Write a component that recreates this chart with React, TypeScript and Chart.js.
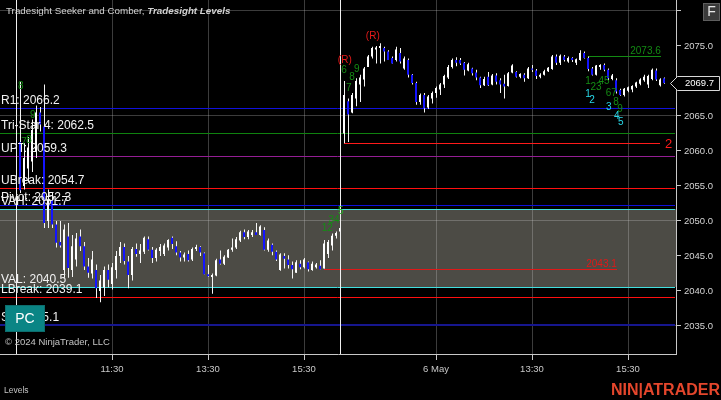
import React, { useEffect, useRef } from 'react';
import { Chart, registerables } from 'chart.js';

Chart.register(...registerables);

const FONT = '"Liberation Sans", Arial, sans-serif';

// ---- Day 1 (5-min bars, 9:35 .. 16:15) ----
const d1Open = [2061.3, 2055.0, 2057.5, 2058.5, 2060.0, 2065.5, 2063.5, 2050.0, 2053.0, 2049.5, 2047.0, 2043.0, 2047.8, 2043.0, 2044.5, 2047.8, 2046.4, 2043.5, 2042.5, 2043.0, 2040.0, 2040.5, 2043.0, 2041.0, 2043.0, 2045.0, 2046.3, 2044.2, 2042.3, 2046.0, 2045.3, 2045.6, 2047.4, 2045.9, 2044.7, 2045.7, 2045.3, 2046.2, 2047.6, 2046.4, 2045.5, 2044.8, 2045.3, 2044.5, 2046.0, 2046.3, 2045.4, 2042.4, 2042.0, 2042.2, 2044.5, 2043.9, 2044.8, 2045.9, 2046.2, 2047.2, 2048.4, 2047.7, 2048.0, 2048.4, 2048.0, 2048.7, 2045.9, 2046.6, 2045.6, 2043.0, 2045.0, 2044.5, 2043.7, 2042.6, 2043.9, 2043.4, 2044.1, 2043.0, 2043.4, 2043.6, 2043.2, 2045.3, 2046.5, 2047.9, 2048.5];
const d1High = [2069.9, 2061.0, 2062.0, 2064.5, 2066.5, 2066.3, 2069.5, 2054.5, 2054.0, 2050.0, 2050.0, 2049.5, 2049.7, 2048.0, 2048.3, 2048.8, 2047.0, 2044.7, 2045.7, 2043.8, 2042.3, 2043.5, 2043.8, 2044.0, 2045.7, 2047.0, 2046.8, 2045.0, 2046.3, 2046.8, 2046.7, 2047.8, 2047.8, 2046.3, 2046.1, 2046.7, 2046.8, 2047.4, 2047.8, 2047.1, 2045.7, 2045.5, 2045.8, 2046.2, 2046.6, 2046.4, 2045.5, 2043.7, 2042.5, 2044.6, 2045.8, 2045.1, 2046.0, 2047.5, 2047.7, 2048.6, 2048.8, 2048.7, 2048.7, 2049.7, 2049.4, 2049.1, 2047.5, 2046.8, 2045.8, 2045.4, 2045.4, 2045.1, 2044.2, 2044.4, 2044.4, 2044.7, 2044.2, 2044.2, 2044.0, 2044.4, 2047.3, 2047.3, 2048.2, 2048.5, 2049.1];
const d1Low = [2054.0, 2054.5, 2055.5, 2057.0, 2059.0, 2062.8, 2049.0, 2049.0, 2049.0, 2046.2, 2046.2, 2041.9, 2041.9, 2042.0, 2043.5, 2045.7, 2043.0, 2041.9, 2041.8, 2039.0, 2038.4, 2039.3, 2040.5, 2040.2, 2041.8, 2044.0, 2043.8, 2040.4, 2041.5, 2044.9, 2044.0, 2045.3, 2045.8, 2044.0, 2044.2, 2045.0, 2045.0, 2045.8, 2046.0, 2045.1, 2044.2, 2044.2, 2044.2, 2044.3, 2045.7, 2045.0, 2042.4, 2042.0, 2039.6, 2042.1, 2043.8, 2043.7, 2044.7, 2045.6, 2046.0, 2047.0, 2047.4, 2047.4, 2047.7, 2048.0, 2047.9, 2045.8, 2045.6, 2045.1, 2044.3, 2042.9, 2043.2, 2043.2, 2041.8, 2042.6, 2043.1, 2043.2, 2042.8, 2042.9, 2043.2, 2043.1, 2043.2, 2044.7, 2045.8, 2047.5, 2048.4];
const d1Close = [2054.4, 2059.0, 2060.5, 2063.0, 2065.5, 2063.8, 2049.7, 2053.0, 2049.5, 2046.9, 2046.5, 2048.8, 2043.3, 2046.4, 2047.5, 2046.4, 2043.5, 2042.6, 2044.5, 2040.4, 2041.5, 2043.0, 2041.6, 2043.4, 2045.0, 2046.3, 2044.3, 2042.3, 2046.0, 2045.3, 2045.8, 2047.6, 2045.9, 2044.7, 2045.9, 2046.3, 2046.5, 2047.3, 2046.7, 2045.5, 2044.8, 2045.2, 2044.4, 2046.0, 2046.3, 2045.5, 2042.4, 2042.1, 2042.3, 2044.4, 2043.9, 2044.9, 2045.9, 2046.2, 2047.4, 2048.4, 2047.7, 2048.5, 2048.4, 2048.0, 2049.2, 2045.9, 2047.2, 2045.6, 2044.5, 2045.2, 2044.6, 2043.7, 2043.1, 2044.1, 2043.4, 2044.5, 2043.1, 2043.9, 2043.8, 2043.1, 2046.8, 2047.0, 2047.9, 2048.3, 2049.0];

// ---- Day 2 (6 May) ----
const d2Open = [2062.5, 2067.1, 2065.5, 2067.5, 2069.5, 2070.2, 2072.0, 2073.5, 2074.5, 2074.7, 2074.7, 2074.2, 2073.3, 2073.0, 2074.0, 2071.8, 2073.0, 2070.9, 2069.7, 2067.0, 2068.0, 2066.2, 2067.5, 2068.3, 2068.8, 2069.5, 2070.5, 2072.0, 2073.0, 2073.0, 2072.6, 2071.5, 2071.8, 2071.2, 2070.5, 2069.4, 2070.6, 2069.5, 2070.8, 2070.1, 2069.6, 2069.3, 2071.2, 2071.3, 2070.6, 2070.9, 2070.4, 2071.8, 2071.5, 2070.6, 2070.9, 2071.4, 2071.7, 2073.5, 2072.6, 2073.5, 2072.8, 2073.3, 2072.6, 2073.0, 2074.0, 2073.3, 2071.8, 2070.9, 2072.0, 2072.3, 2071.6, 2070.3, 2070.1, 2068.7, 2068.0, 2068.6, 2068.8, 2069.2, 2069.6, 2070.1, 2069.5, 2070.3, 2071.5, 2069.4, 2070.4];
const d2High = [2070.0, 2067.5, 2068.3, 2070.4, 2070.9, 2072.0, 2073.7, 2074.9, 2075.0, 2075.4, 2074.9, 2074.4, 2073.5, 2074.9, 2074.7, 2073.5, 2073.2, 2071.0, 2069.9, 2068.2, 2068.3, 2068.0, 2068.5, 2069.2, 2069.7, 2070.9, 2072.3, 2073.2, 2073.4, 2073.3, 2072.7, 2072.6, 2071.9, 2071.6, 2070.6, 2070.6, 2071.3, 2071.0, 2071.1, 2070.4, 2070.9, 2071.3, 2072.4, 2071.4, 2071.1, 2071.1, 2072.0, 2072.3, 2071.7, 2071.1, 2071.6, 2072.0, 2073.7, 2073.8, 2073.8, 2073.7, 2073.5, 2073.4, 2073.2, 2074.4, 2074.2, 2073.5, 2072.0, 2072.3, 2072.4, 2072.5, 2071.8, 2071.0, 2070.4, 2068.9, 2069.0, 2069.2, 2069.4, 2069.9, 2070.4, 2070.9, 2070.9, 2071.8, 2071.8, 2070.4, 2070.5];
const d2Low = [2061.1, 2061.3, 2065.4, 2066.4, 2067.0, 2069.2, 2072.0, 2073.2, 2072.5, 2072.5, 2072.8, 2073.0, 2072.5, 2072.8, 2072.5, 2071.6, 2070.5, 2069.5, 2066.6, 2066.6, 2065.5, 2066.0, 2066.8, 2067.6, 2068.0, 2069.0, 2070.3, 2071.8, 2072.1, 2072.3, 2070.8, 2071.4, 2070.8, 2070.1, 2069.0, 2069.3, 2069.3, 2069.4, 2069.5, 2068.3, 2067.5, 2069.2, 2071.1, 2070.5, 2070.4, 2069.9, 2070.3, 2071.3, 2070.3, 2070.4, 2070.8, 2071.3, 2071.6, 2072.3, 2072.3, 2072.8, 2072.6, 2072.7, 2072.3, 2072.9, 2073.2, 2071.4, 2070.8, 2070.8, 2071.6, 2071.4, 2070.1, 2070.1, 2068.2, 2067.9, 2067.8, 2068.4, 2068.4, 2069.0, 2069.4, 2069.9, 2069.0, 2070.1, 2070.0, 2069.2, 2069.6];
const d2Close = [2068.0, 2065.2, 2068.0, 2070.0, 2070.5, 2071.8, 2073.5, 2074.7, 2074.8, 2075.0, 2074.2, 2073.0, 2072.5, 2074.5, 2072.8, 2073.2, 2070.9, 2069.7, 2067.0, 2068.0, 2066.1, 2067.8, 2068.3, 2069.0, 2069.5, 2070.7, 2072.0, 2073.0, 2072.6, 2072.5, 2071.6, 2072.4, 2071.1, 2070.5, 2069.4, 2070.3, 2069.4, 2070.8, 2069.9, 2069.5, 2069.2, 2071.1, 2072.2, 2070.6, 2071.0, 2070.4, 2071.8, 2071.6, 2070.7, 2070.9, 2071.4, 2071.9, 2073.5, 2072.6, 2073.6, 2073.0, 2073.3, 2073.0, 2073.1, 2074.0, 2073.3, 2071.7, 2070.9, 2072.2, 2072.3, 2071.6, 2070.4, 2070.8, 2068.5, 2068.0, 2068.9, 2069.1, 2069.3, 2069.8, 2070.2, 2070.6, 2070.7, 2071.6, 2070.2, 2070.2, 2069.7];

// session opens (minutes on the compressed session timeline)
const sessionStarts = [0, 405];
const barMinutes = 5;

// axis ticks
const xTickValues = [120, 240, 360, 525, 645, 765];
const xTickLabels = ['11:30', '13:30', '15:30', '6 May', '13:30', '15:30'];
const yTickValues = [2035, 2040, 2045, 2050, 2055, 2060, 2065, 2070, 2075, 2080];
const yTickLabels = ['2035.0', '2040.0', '2045.0', '2050.0', '2055.0', '2060.0', '2065.0', '2070.0', '2075.0', ''];
const yGridValues = [2035, 2050, 2065, 2080];

// Tradesight levels
const levelNames = ['R1', 'Tri-Star 4', 'UPT', 'UBreak', 'Pivot', 'VAH', 'VAL', 'LBreak', 'S1'];
const levelValues = [2066.2, 2062.5, 2059.3, 2054.7, 2052.3, 2051.7, 2040.5, 2039.1, 2035.1];
const levelColors = ['#1010dc', '#0f820f', '#941e94', '#ff1010', '#1010dc', '#40e0e0', '#40e0e0', '#ff1010', '#16168e'];
const levelWidths = [1, 1, 1, 1, 1, 1, 1, 1, 2];
const valueAreaHigh = 2051.7;
const valueAreaLow = 2040.5;

// Seeker / Comber segments
const segValues = [2061.1, 2043.1, 2073.6];
const segStart = [410, 385, 715];
const segEnd = [805, 751, 806];
const segColors = ['#ff1a1a', '#e01818', '#138a13'];
const segLabels = ['2', '2043.1', '2073.6'];

// count labels
const countText = ['8', '9', '7', '8', '12', '34', '5', '(R)', '6', '7', '8', '9', '(R)', '1', '23', '45', '67', '8', '9', '1', '2', '3', '4', '5'];
const countTime = [5.9, 20.9, 10, 16.3, 389, 397.5, 406, 411, 410, 416, 420, 426, 446, 715, 725, 735, 744, 750, 755, 715, 720, 741, 751, 756];
const countPrice = [2069.3, 2065.1, 2061.3, 2061.6, 2049.0, 2050.1, 2051.4, 2073.0, 2071.6, 2069.0, 2070.6, 2071.7, 2076.4, 2069.9, 2069.1, 2070.0, 2068.3, 2066.9, 2065.9, 2068.1, 2067.3, 2066.3, 2065.0, 2064.1];
const countColor = ['g', 'g', 'g', 'g', 'g', 'g', 'G', 'r', 'g', 'g', 'g', 'g', 'r', 'g', 'g', 'g', 'g', 'g', 'g', 'c', 'c', 'c', 'c', 'c'];

const X_MIN = -20;
const X_MAX = 825;
const Y_MIN = 2031;
const Y_MAX = 2081.57;

const GRID = 'rgba(200,200,200,0.3)';
const AXIS = '#c8c8c8';

const opens = [...d1Open, ...d2Open];
const highs = [...d1High, ...d2High];
const lows = [...d1Low, ...d2Low];
const closes = [...d1Close, ...d2Close];
const barTimes = [
  ...d1Open.map((_, i) => sessionStarts[0] + barMinutes * (i + 1)),
  ...d2Open.map((_, i) => sessionStarts[1] + barMinutes * (i + 1)),
];

const colorMap: Record<string, string> = { g: '#148c14', G: '#22b022', r: '#e81a1a', c: '#28d8e8' };

function hLine(ctx: any, yPix: number, x0: number, x1: number, color: string, width: number) {
  const yy = width % 2 === 1 ? Math.round(yPix) + 0.5 : Math.round(yPix);
  ctx.strokeStyle = color;
  ctx.lineWidth = width;
  ctx.beginPath();
  ctx.moveTo(Math.round(x0), yy);
  ctx.lineTo(Math.round(x1), yy);
  ctx.stroke();
}

const overlayPlugin = {
  id: 'ntOverlay',
  beforeDraw(chart: any) {
    const { ctx, chartArea: a, scales } = chart;
    const y = scales.y;
    ctx.save();
    ctx.fillStyle = '#000';
    ctx.fillRect(0, 0, chart.width, chart.height);
    const yt = Math.round(y.getPixelForValue(valueAreaHigh));
    const yb = Math.round(y.getPixelForValue(valueAreaLow));
    ctx.fillStyle = '#4c4b45';
    ctx.fillRect(a.left, yt, a.right - a.left, yb - yt);
    ctx.restore();
  },
  beforeDatasetsDraw(chart: any) {
    const { ctx, chartArea: a, scales } = chart;
    const x = scales.x;
    const y = scales.y;
    ctx.save();
    levelValues.forEach((v, i) => {
      hLine(ctx, y.getPixelForValue(v), a.left, a.right - 1, levelColors[i], levelWidths[i]);
    });
    segValues.forEach((v, i) => {
      hLine(ctx, y.getPixelForValue(v), x.getPixelForValue(segStart[i]), x.getPixelForValue(segEnd[i]), segColors[i], 1);
    });
    ctx.restore();
  },
  afterDatasetsDraw(chart: any) {
    const { ctx, chartArea: a, scales } = chart;
    const x = scales.x;
    const y = scales.y;
    ctx.save();
    // session break lines
    ctx.strokeStyle = '#f0f0f0';
    ctx.lineWidth = 1;
    sessionStarts.forEach((s) => {
      const px = Math.round(x.getPixelForValue(s)) + 0.5;
      ctx.beginPath();
      ctx.moveTo(px, a.top);
      ctx.lineTo(px, a.bottom);
      ctx.stroke();
    });
    // level labels
    ctx.font = `12px ${FONT}`;
    ctx.fillStyle = '#f2f2f2';
    ctx.textAlign = 'left';
    ctx.textBaseline = 'bottom';
    levelNames.forEach((n, i) => {
      ctx.fillText(`${n}: ${levelValues[i].toFixed(1)}`, a.left + 1, Math.round(y.getPixelForValue(levelValues[i])) - 1);
    });
    // segment labels
    segLabels.forEach((t, i) => {
      const yp = Math.round(y.getPixelForValue(segValues[i]));
      ctx.fillStyle = segColors[i];
      if (i === 0) {
        ctx.font = `13px ${FONT}`;
        ctx.textAlign = 'left';
        ctx.textBaseline = 'middle';
        ctx.fillText(t, x.getPixelForValue(segEnd[i]) + 5, yp + 1);
      } else {
        ctx.font = `10px ${FONT}`;
        ctx.textAlign = 'right';
        ctx.textBaseline = 'bottom';
        ctx.fillText(t, x.getPixelForValue(segEnd[i]), yp);
      }
    });
    // count labels
    ctx.font = `10px ${FONT}`;
    ctx.textAlign = 'center';
    ctx.textBaseline = 'middle';
    countText.forEach((t, i) => {
      ctx.fillStyle = colorMap[countColor[i]];
      ctx.fillText(t, x.getPixelForValue(countTime[i]), y.getPixelForValue(countPrice[i]));
    });
    ctx.restore();
  },
  afterDraw(chart: any) {
    const { ctx, scales } = chart;
    const y = scales.y;
    ctx.save();
    // title
    ctx.textBaseline = 'middle';
    ctx.textAlign = 'left';
    ctx.fillStyle = '#d2d2d2';
    ctx.font = `9.8px ${FONT}`;
    const t1 = 'Tradesight Seeker and Comber, ';
    ctx.fillText(t1, 6, 11);
    const w1 = ctx.measureText(t1).width;
    ctx.font = `italic bold 9.8px ${FONT}`;
    ctx.fillText('Tradesight Levels', 6 + w1, 11);
    // PC box
    ctx.fillStyle = '#0a8585';
    ctx.fillRect(5, 305, 40, 27);
    ctx.strokeStyle = '#0d6d6d';
    ctx.lineWidth = 1;
    ctx.strokeRect(5.5, 305.5, 39, 26);
    ctx.fillStyle = '#ffffff';
    ctx.font = `14px ${FONT}`;
    ctx.textAlign = 'center';
    ctx.fillText('PC', 25, 319);
    // copyright
    ctx.textAlign = 'left';
    ctx.fillStyle = '#c4c4c4';
    ctx.font = `9.5px ${FONT}`;
    ctx.fillText('\u00a9 2024 NinjaTrader, LLC', 5, 342);
    // Levels tab
    ctx.font = `8.5px ${FONT}`;
    ctx.fillStyle = '#c4c4c4';
    ctx.fillText('Levels', 4, 391);
    // logo
    ctx.font = `bold 16px ${FONT}`;
    ctx.fillStyle = '#e4462c';
    ctx.textAlign = 'right';
    ctx.fillText('NIN|ATRADER', 720, 391);
    // F button
    ctx.fillStyle = '#3a3a3a';
    ctx.fillRect(703, 3, 17, 18);
    ctx.strokeStyle = '#5e5e5e';
    ctx.strokeRect(703.5, 3.5, 16, 17);
    ctx.fillStyle = '#e6e6e6';
    ctx.font = `14px ${FONT}`;
    ctx.textAlign = 'center';
    ctx.fillText('F', 711.5, 12.5);
    // last price marker
    const last = closes[closes.length - 1];
    const py = Math.round(y.getPixelForValue(last)) + 0.5;
    ctx.beginPath();
    ctx.moveTo(670.5, py);
    ctx.lineTo(677.5, py - 7);
    ctx.lineTo(719.5, py - 7);
    ctx.lineTo(719.5, py + 7);
    ctx.lineTo(677.5, py + 7);
    ctx.closePath();
    ctx.fillStyle = '#000';
    ctx.fill();
    ctx.strokeStyle = '#d8d8d8';
    ctx.stroke();
    ctx.fillStyle = '#ffffff';
    ctx.font = `9.5px ${FONT}`;
    ctx.textAlign = 'left';
    ctx.fillText(last.toFixed(1), 685, py);
    ctx.restore();
  },
};

export default function App() {
  const ref = useRef<HTMLCanvasElement | null>(null);
  useEffect(() => {
    document.body.style.margin = '0';
    document.body.style.background = '#000';
    const canvas = ref.current;
    if (!canvas) return;

    const wickData = barTimes.map((t, i) => ({ x: t, y: [lows[i], highs[i]] }));
    const bodyData = barTimes.map((t, i) => ({
      x: t,
      y: [Math.min(opens[i], closes[i]), Math.max(opens[i], closes[i])],
    }));
    const bodyColors = opens.map((o, i) => (closes[i] >= o ? '#ffffff' : '#1414ff'));

    const chart = new Chart(canvas, {
      type: 'bar',
      data: {
        datasets: [
          {
            type: 'bar',
            data: wickData as any,
            xAxisID: 'xw',
            backgroundColor: '#f4f4f4',
            barThickness: 1,
            grouped: false,
            inflateAmount: 0,
            borderWidth: 0,
            order: 2,
          },
          {
            type: 'bar',
            data: bodyData as any,
            backgroundColor: bodyColors,
            barThickness: 2,
            minBarLength: 1,
            grouped: false,
            inflateAmount: 0,
            borderWidth: 0,
            order: 1,
          },
        ],
      },
      options: {
        animation: false,
        responsive: false,
        devicePixelRatio: 1,
        events: [],
        layout: { padding: 0, autoPadding: false },
        plugins: { legend: { display: false }, tooltip: { enabled: false }, title: { display: false } },
        scales: {
          x: {
            type: 'linear',
            min: X_MIN,
            max: X_MAX,
            offset: false,
            afterBuildTicks: (s: any) => {
              s.ticks = xTickValues.map((v) => ({ value: v }));
            },
            afterFit: (s: any) => {
              s.height = 46;
              s.paddingLeft = 0;
              s.paddingRight = 0;
              s.paddingTop = 0;
              s.paddingBottom = 0;
            },
            ticks: {
              autoSkip: false,
              maxRotation: 0,
              color: AXIS,
              padding: 4,
              font: { size: 9.5, family: FONT },
              callback: (_v: any, i: number) => xTickLabels[i],
            },
            grid: { color: GRID, tickColor: AXIS, tickLength: 6, offset: false },
            border: { color: AXIS, width: 1 },
          },
          xw: {
            type: 'linear',
            display: false,
            min: X_MIN - 0.625,
            max: X_MAX - 0.625,
            offset: false,
          },
          y: {
            type: 'linear',
            position: 'right',
            min: Y_MIN,
            max: Y_MAX,
            afterBuildTicks: (s: any) => {
              s.ticks = yTickValues.map((v) => ({ value: v }));
            },
            afterFit: (s: any) => {
              s.width = 45;
              s.paddingTop = 0;
              s.paddingBottom = 0;
              s.paddingLeft = 0;
              s.paddingRight = 0;
            },
            ticks: {
              color: '#d4d4d4',
              padding: 3,
              font: { size: 9.5, family: FONT },
              callback: (_v: any, i: number) => yTickLabels[i],
            },
            grid: {
              color: (c: any) => (c.tick && yGridValues.includes(c.tick.value) ? GRID : 'rgba(0,0,0,0)'),
              tickColor: AXIS,
              tickLength: 5,
            },
            border: { color: AXIS, width: 1 },
          },
        },
      } as any,
      plugins: [overlayPlugin],
    });
    return () => chart.destroy();
  }, []);

  return (
    <div style={{ width: 721, height: 400, background: '#000' }}>
      <canvas ref={ref} width={721} height={400} style={{ display: 'block' }} />
    </div>
  );
}
